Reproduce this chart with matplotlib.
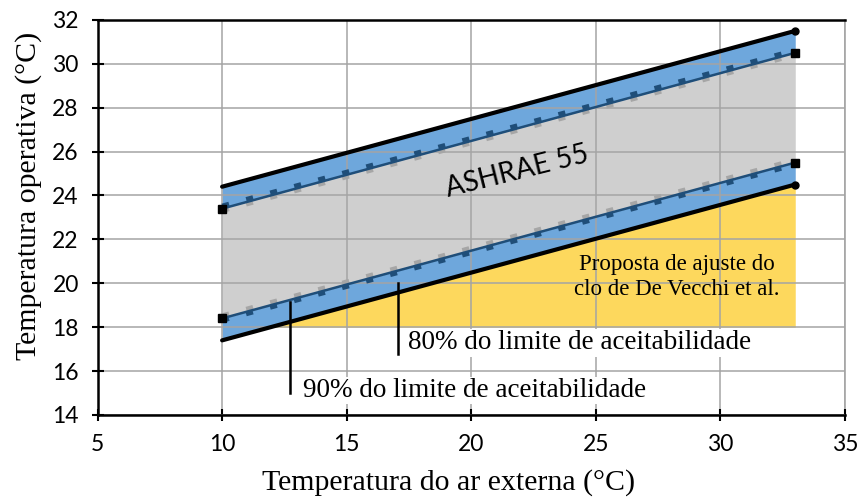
import numpy as np
import matplotlib
matplotlib.use("Agg")
import matplotlib.pyplot as plt

# Data
t_out = [10, 33]                    # outdoor air temperature (°C)
upper_80 = [24.4, 31.5]             # 80% acceptability upper limit
upper_90 = [23.4, 30.5]             # 90% acceptability upper limit
lower_90 = [18.4, 25.5]             # 90% acceptability lower limit
lower_80 = [17.4, 24.5]             # 80% acceptability lower limit
proposal_floor = 18.0               # lower bound of the proposal region
xticks = [5, 10, 15, 20, 25, 30, 35]
yticks = [14, 16, 18, 20, 22, 24, 26, 28, 30, 32]

fig = plt.figure(figsize=(8.57, 4.97), dpi=100)
ax = fig.add_axes([0.1138, 0.165, 0.8723, 0.795])

serif = ["Liberation Serif", "DejaVu Serif"]
sans = ["Lato", "DejaVu Sans"]

blue = "#6ea7dc"
gray = "#cfcfcf"
yellow = "#fdd85d"
navy = "#1f4e79"
dash_gray = "#a6a6a6"

xs = np.linspace(t_out[0], t_out[1], 200)
u80 = np.interp(xs, t_out, upper_80)
u90 = np.interp(xs, t_out, upper_90)
l90 = np.interp(xs, t_out, lower_90)
l80 = np.interp(xs, t_out, lower_80)

# Yellow proposal region
ax.fill_between(xs, proposal_floor, np.maximum(l80, proposal_floor),
                where=l80 >= proposal_floor, color=yellow, lw=0, zorder=1)
# Gray ASHRAE region
ax.fill_between(xs, l90, u90, color=gray, lw=0, zorder=1)
# Blue bands
ax.fill_between(xs, u90, u80, color=blue, lw=0, zorder=1)
ax.fill_between(xs, l80, l90, color=blue, lw=0, zorder=1)

# Outer 80% lines
for ys in (upper_80, lower_80):
    ax.plot(t_out, ys, color="black", lw=3, solid_capstyle="round", zorder=4)
    ax.plot([t_out[1]], [ys[1]], "o", color="black", ms=5, zorder=5)

# Inner 90% lines with step-like dashes
for ys, top, bottom in ((upper_90, navy, dash_gray),
                        (lower_90, dash_gray, navy)):
    arr = np.array(ys)
    ax.plot(t_out, arr + 0.13, color=top, lw=3.2,
            dashes=(1.6, 4.0), dash_capstyle="butt", zorder=3)
    ax.plot(t_out, arr - 0.1, color=bottom, lw=3.2,
            dashes=(1.6, 4.0), dash_capstyle="butt", zorder=3)
    ax.plot(t_out, arr, color=navy, lw=1.8, zorder=4)
    ax.plot(t_out, arr, "s", color="black", ms=5.5, zorder=5)

# Annotations
ax.plot([17.04, 17.04], [20.0, 16.8], color="black", lw=1.8, zorder=6)
ax.plot([12.72, 12.72], [19.15, 15.0], color="black", lw=1.8, zorder=6)
box = dict(facecolor="white", edgecolor="none", pad=1)
ax.text(17.45, 17.28, "80% do limite de aceitabilidade", fontsize=19.5,
        family=serif, ha="left", va="center", zorder=7, bbox=box)
ax.text(13.25, 15.12, "90% do limite de aceitabilidade", fontsize=19.5,
        family=serif, ha="left", va="center", zorder=7, bbox=box)
ax.text(28.25, 20.29, "Proposta de ajuste do\nclo de De Vecchi et al.",
        fontsize=16.5, family=serif, ha="center", va="center",
        linespacing=1.2, zorder=7)
ax.text(21.85, 25.07, "ASHRAE 55", fontsize=20, family=sans,
        rotation=14, ha="center", va="center", zorder=7)

ax.set_xlim(5, 35)
ax.set_ylim(14, 32)
ax.set_xticks(xticks)
ax.set_yticks(yticks)
ax.grid(True, color="#a4a4a4", lw=1.1, zorder=2)
ax.set_axisbelow(False)
for gl in ax.get_xgridlines() + ax.get_ygridlines():
    gl.set_zorder(2)
ax.tick_params(direction="inout", length=9, width=1.5, labelsize=16.5,
               pad=9)
for lab in ax.get_xticklabels() + ax.get_yticklabels():
    lab.set_family(sans)
for side in ("left", "bottom", "top"):
    ax.spines[side].set_linewidth(1.8)
    ax.spines[side].set_color("black")
    ax.spines[side].set_zorder(8)
ax.spines["right"].set_color("#a4a4a4")
ax.spines["right"].set_linewidth(1.2)

ax.set_xlabel("Temperatura do ar externa (°C)", fontsize=21.5,
              family=serif)
ax.set_ylabel("Temperatura operativa (°C)", fontsize=21.5,
              family=serif)
ax.xaxis.set_label_coords(0.469, -0.172)
ax.xaxis.label.set_va("center")
ax.yaxis.set_label_coords(-0.092, 0.554)
ax.yaxis.label.set_va("center")

fig.savefig("out.png", dpi=100)
